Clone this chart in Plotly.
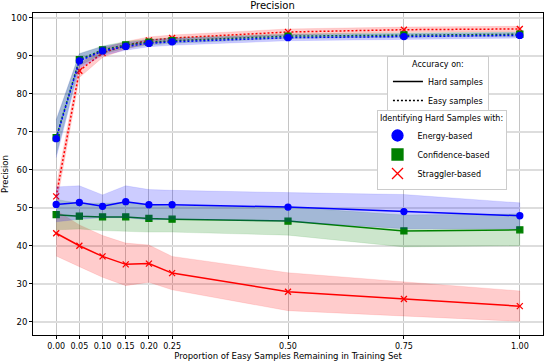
import plotly.graph_objects as go

proportions = [0.0, 0.05, 0.10, 0.15, 0.20, 0.25, 0.50, 0.75, 1.00]
tick_labels = ['0.00', '0.05', '0.10', '0.15', '0.20', '0.25', '0.50', '0.75', '1.00']

# hard samples (solid lines)
energy_hard = [50.9, 51.4, 50.4, 51.6, 50.8, 50.8, 50.2, 49.0, 47.9]
energy_hard_std = [4.6, 4.4, 3.0, 4.2, 4.0, 3.8, 3.8, 4.5, 3.4]
confidence_hard = [48.2, 47.8, 47.6, 47.6, 47.2, 47.0, 46.5, 43.9, 44.2]
confidence_hard_std = [4.0, 3.4, 3.6, 3.8, 3.6, 3.4, 3.7, 4.2, 4.2]
straggler_hard = [43.3, 40.0, 37.2, 35.1, 35.3, 32.8, 27.9, 26.0, 24.1]
straggler_hard_std = [6.0, 5.5, 5.5, 5.6, 4.9, 4.4, 5.0, 4.5, 4.0]

# easy samples (dotted lines)
energy_easy = [68.2, 88.7, 91.3, 92.5, 93.3, 93.7, 94.8, 95.1, 95.4]
energy_easy_std = [5.0, 1.9, 1.2, 1.0, 0.9, 0.9, 0.8, 0.8, 0.7]
confidence_easy = [68.5, 89.0, 91.6, 92.9, 93.6, 94.0, 95.2, 95.5, 95.7]
confidence_easy_std = [4.5, 1.6, 1.0, 0.9, 0.8, 0.7, 0.6, 0.6, 0.6]
straggler_easy = [53.0, 86.1, 90.8, 92.8, 94.1, 94.7, 96.3, 96.9, 97.1]
straggler_easy_std = [2.5, 1.8, 1.2, 1.0, 0.9, 0.8, 0.8, 0.7, 0.7]

methods = [
    ('Straggler-based', 'red', 'rgba(255,0,0,0.2)', 'x-thin',
     straggler_hard, straggler_hard_std, straggler_easy, straggler_easy_std),
    ('Confidence-based', 'green', 'rgba(0,128,0,0.2)', 'square',
     confidence_hard, confidence_hard_std, confidence_easy, confidence_easy_std),
    ('Energy-based', 'blue', 'rgba(0,0,255,0.2)', 'circle',
     energy_hard, energy_hard_std, energy_easy, energy_easy_std),
]

fig = go.Figure()


def band(mean, std, fillcolor):
    upper = [m + s for m, s in zip(mean, std)]
    lower = [m - s for m, s in zip(mean, std)]
    return go.Scatter(x=proportions + proportions[::-1], y=upper + lower[::-1],
                      fill='toself', fillcolor=fillcolor, mode='lines',
                      line=dict(width=0.5, color=fillcolor),
                      showlegend=False, hoverinfo='skip')


dotted = '2px,2px'

for name, color, fillcolor, symbol, hard, hard_std, easy, easy_std in methods:
    fig.add_trace(band(hard, hard_std, fillcolor))
    fig.add_trace(band(easy, easy_std, fillcolor))
    mk = dict(symbol=symbol, size=6, color=color, line=dict(color=color, width=1.3))
    fig.add_trace(go.Scatter(x=proportions, y=hard, mode='lines+markers',
                             line=dict(color=color, width=1.5), marker=mk, showlegend=False))
    fig.add_trace(go.Scatter(x=proportions, y=easy, mode='lines+markers',
                             line=dict(color=color, width=1.5, dash=dotted), marker=mk,
                             showlegend=False))

# legend 1: line styles
fig.add_trace(go.Scatter(x=[None], y=[None], mode='lines', name='Hard samples',
                         line=dict(color='black', width=1.5), legend='legend'))
fig.add_trace(go.Scatter(x=[None], y=[None], mode='lines', name='Easy samples',
                         line=dict(color='black', width=1.5, dash=dotted), legend='legend'))

# legend 2: methods
for name, color, fillcolor, symbol, *_ in methods[::-1]:
    fig.add_trace(go.Scatter(x=[None], y=[None], mode='markers', name=name,
                             marker=dict(symbol=symbol, size=11, color=color,
                                         line=dict(color=color, width=1.3)),
                             legend='legend2'))

font = 'DejaVu Sans, sans-serif'
fig.update_layout(
    width=545, height=361,
    margin=dict(l=33, r=2, t=13, b=26),
    plot_bgcolor='white', paper_bgcolor='white',
    font=dict(family=font, size=9, color='black'),
    title=dict(text='Precision', x=0.5, xanchor='center', y=0.995, yanchor='top',
               font=dict(size=10)),
    legend=dict(title=dict(text='Accuracy on:', side='top center', font=dict(size=8)),
                x=0.794, xanchor='center', y=0.868, yanchor='top',
                bgcolor='white', bordercolor='#cccccc', borderwidth=1,
                font=dict(size=8), tracegroupgap=0),
    legend2=dict(title=dict(text='Identifying Hard Samples with:', side='top center',
                            font=dict(size=8)),
                 x=0.801, xanchor='center', y=0.70, yanchor='top',
                 bgcolor='white', bordercolor='#cccccc', borderwidth=1,
                 font=dict(size=8), tracegroupgap=0),
    xaxis=dict(range=[-0.05, 1.05], tickvals=proportions, ticktext=tick_labels,
               showgrid=True, gridcolor='#c4c4c4', gridwidth=1, zeroline=False,
               showline=True, linecolor='black', linewidth=1, mirror=True,
               ticks='outside', ticklen=3, tickcolor='black', tickfont=dict(size=8),
               automargin=False,
               title=dict(text='Proportion of Easy Samples Remaining in Training Set',
                          font=dict(size=8.5), standoff=2)),
    yaxis=dict(range=[16.5, 101.3], tickvals=[20, 30, 40, 50, 60, 70, 80, 90, 100],
               showgrid=True, gridcolor='#dddddd', gridwidth=1.5, zeroline=False,
               showline=True, linecolor='black', linewidth=1, mirror=True,
               ticks='outside', ticklen=3, tickcolor='black', tickfont=dict(size=8.5),
               automargin=False,
               title=dict(text='Precision', font=dict(size=8.5), standoff=4)),
)

fig.write_html('out.html', config={'displayModeBar': False},
               post_script="document.body.style.margin='0';")
